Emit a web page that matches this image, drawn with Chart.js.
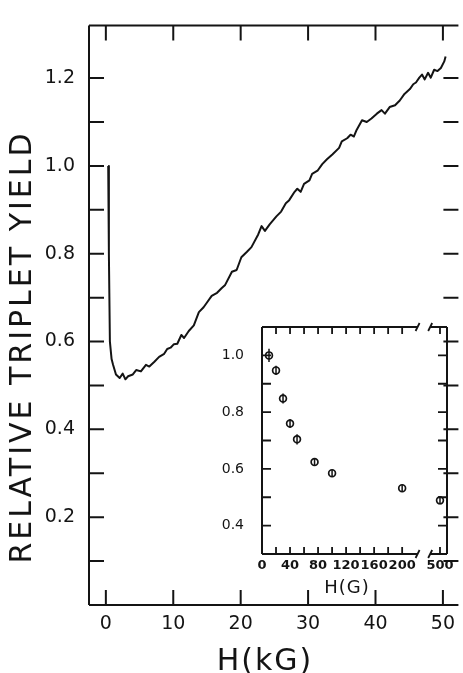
<!DOCTYPE html>
<html>
<head>
<meta charset="utf-8">
<script src="https://cdn.jsdelivr.net/npm/chart.js@4.4.1/dist/chart.umd.min.js"></script>
<style>
    html, body { margin: 0; padding: 0; background: #fff; }
    #wrap { position: relative; width: 463px; height: 673px; overflow: hidden; }
    #main { position: absolute; left: 0; top: 0; }
    #inset { position: absolute; left: 200px; top: 300px; }
</style>
</head>
<body>
<div id="wrap">
    <canvas id="main" width="463" height="673"></canvas>
    <canvas id="inset" width="263" height="300"></canvas>
</div>
<script>
const INK = '#141414';
const FAMILY = '"DejaVu Sans", sans-serif';

// main trace: relative triplet yield vs H (kG)
const fieldKG = [
    0.35, 0.45, 0.6, 0.85, 1.07, 1.5, 2.05, 2.5, 2.9, 3.3, 4.0, 4.5, 5.2, 5.95, 6.45,
    7.2, 7.9, 8.65, 9.1, 9.6, 10.1, 10.6, 11.2, 11.6, 12.3, 13.05, 13.8, 14.5, 15.0,
    15.7, 16.5, 17.2, 17.7, 18.7, 19.4, 20.1, 20.9, 21.6, 22.6, 23.1, 23.6, 24.3,
    25.3, 26.0, 26.7, 27.2, 28.0, 28.4, 28.9, 29.4, 30.2, 30.6, 31.4, 32.1, 32.8,
    33.6, 34.6, 35.0, 35.8, 36.3, 36.8, 37.2, 38.0, 38.7, 39.4, 40.2, 40.9, 41.4,
    42.1, 42.9, 43.6, 44.3, 45.1, 45.6, 46.0, 46.5, 46.9, 47.3, 47.8, 48.2, 48.7,
    49.2, 49.7, 50.2, 50.4
];
const yieldMain = [
    1.0, 0.8, 0.6, 0.56, 0.547, 0.525, 0.517, 0.527, 0.514, 0.521, 0.525, 0.535, 0.532, 0.547, 0.543,
    0.554, 0.565, 0.572, 0.583, 0.586, 0.594, 0.595, 0.615, 0.608, 0.624, 0.637, 0.667, 0.678, 0.689,
    0.704, 0.711, 0.722, 0.729, 0.759, 0.763, 0.792, 0.804, 0.815, 0.844, 0.863, 0.852, 0.867,
    0.885, 0.896, 0.915, 0.922, 0.941, 0.948, 0.941, 0.959, 0.967, 0.982, 0.989, 1.004, 1.015,
    1.026, 1.041, 1.056, 1.063, 1.071, 1.067, 1.082, 1.104, 1.1, 1.108, 1.119, 1.127, 1.119,
    1.134, 1.138, 1.149, 1.164, 1.175, 1.186, 1.19, 1.201, 1.208, 1.197, 1.212, 1.201, 1.219,
    1.216, 1.223, 1.238, 1.249
];
const mainXTicks = [0, 10, 20, 30, 40, 50];
const mainXLabels = ['0', '10', '20', '30', '40', '50'];
const mainYTicks = [0.1, 0.2, 0.3, 0.4, 0.5, 0.6, 0.7, 0.8, 0.9, 1.0, 1.1, 1.2];
const mainYLabels = ['', '0.2', '', '0.4', '', '0.6', '', '0.8', '', '1.0', '', '1.2'];

// inset: low field points, H in gauss
const fieldG = [10, 20, 30, 40, 50, 75, 100, 200, 500];
const yieldInset = [1.0, 0.947, 0.848, 0.76, 0.704, 0.624, 0.585, 0.532, 0.489];
const yieldErr = [0.023, 0.016, 0.018, 0.016, 0.018, 0.013, 0.012, 0.012, 0.014];
const insetXTicks = [0, 20, 40, 60, 80, 100, 120, 140, 160, 180, 200, 254];
const insetXLabels = ['0', '', '40', '', '80', '', '120', '', '160', '', '200', '500'];
const insetYTicks = [0.4, 0.5, 0.6, 0.7, 0.8, 0.9, 1.0];
const insetYLabels = ['0.4', '', '0.6', '', '0.8', '', '1.0'];

// the inset axis is broken after 200 G; 500 G sits on the last tick
const BREAK_FROM = 222;
const BREAK_TO = 240;
const FAR_POS = 254;
const insetPos = g => (g > BREAK_FROM ? FAR_POS : g);

// box with inward ticks on every side
const frame = {
    id: 'frame',
    afterDatasetsDraw(chart, args, o) {
        const { ctx, chartArea: a } = chart;
        const x = chart.scales.x;
        const y = chart.scales.y;
        ctx.save();
        ctx.strokeStyle = INK;
        ctx.lineWidth = o.lineWidth;
        ctx.beginPath();
        const hLine = yy => {
            if (o.gap) {
                ctx.moveTo(a.left, yy);
                ctx.lineTo(x.getPixelForValue(o.gap[0]), yy);
                ctx.moveTo(x.getPixelForValue(o.gap[1]), yy);
                ctx.lineTo(a.right, yy);
            } else {
                ctx.moveTo(a.left, yy);
                ctx.lineTo(a.right, yy);
            }
        };
        hLine(a.top);
        hLine(a.bottom);
        ctx.moveTo(a.left, a.top);
        ctx.lineTo(a.left, a.bottom);
        if (o.right) {
            ctx.moveTo(a.right, a.top);
            ctx.lineTo(a.right, a.bottom);
        }
        ctx.stroke();

        ctx.lineWidth = o.tickWidth;
        ctx.beginPath();
        x.ticks.forEach(t => {
            const px = x.getPixelForValue(t.value);
            if (px <= a.left + 2 || px >= a.right - 2) return;
            ctx.moveTo(px, a.bottom);
            ctx.lineTo(px, a.bottom - o.xLen);
            ctx.moveTo(px, a.top);
            ctx.lineTo(px, a.top + o.xLen);
        });
        y.ticks.forEach(t => {
            const py = y.getPixelForValue(t.value);
            ctx.moveTo(a.left, py);
            ctx.lineTo(a.left + o.yLen, py);
            ctx.moveTo(a.right, py);
            ctx.lineTo(a.right - o.yLen, py);
        });
        if (o.gap) {
            o.gap.forEach(v => {
                const px = x.getPixelForValue(v);
                [a.top, a.bottom].forEach(yy => {
                    ctx.moveTo(px - 2, yy + 4);
                    ctx.lineTo(px + 2, yy - 4);
                });
            });
        }
        ctx.stroke();
        ctx.restore();
    }
};

const errorBars = {
    id: 'errorBars',
    afterDatasetsDraw(chart, args, o) {
        if (!o.err) return;
        const { ctx } = chart;
        const x = chart.scales.x;
        const y = chart.scales.y;
        ctx.save();
        ctx.strokeStyle = INK;
        ctx.lineWidth = 1.5;
        ctx.beginPath();
        chart.data.datasets[0].data.forEach((p, i) => {
            const px = x.getPixelForValue(p.x);
            ctx.moveTo(px, y.getPixelForValue(p.y - o.err[i]));
            ctx.lineTo(px, y.getPixelForValue(p.y + o.err[i]));
        });
        ctx.stroke();
        ctx.restore();
    }
};

const axisTitles = {
    id: 'axisTitles',
    afterDraw(chart, args, o) {
        const { ctx } = chart;
        (o.items || []).forEach(it => {
            ctx.save();
            ctx.fillStyle = INK;
            ctx.font = it.font;
            ctx.letterSpacing = it.spacing || '0px';
            ctx.textAlign = 'center';
            ctx.textBaseline = 'middle';
            ctx.translate(it.x, it.y);
            ctx.rotate(it.rotate || 0);
            ctx.fillText(it.text, 0, 0);
            ctx.restore();
        });
    }
};

function tickAxis(ticks, labels, opts) {
    return {
        type: 'linear',
        min: opts.min,
        max: opts.max,
        afterBuildTicks: s => { s.ticks = ticks.map(v => ({ value: v })); },
        afterFit: s => {
            if (opts.width) s.width = opts.width;
            if (opts.height) s.height = opts.height;
        },
        grid: { display: false, drawTicks: false },
        border: { display: false },
        ticks: {
            callback: (v, i) => labels[i],
            autoSkip: false,
            maxRotation: 0,
            padding: opts.padding,
            color: INK,
            font: { family: FAMILY, size: opts.size, weight: opts.weight || 'normal' }
        }
    };
}

new Chart(document.getElementById('main'), {
    type: 'line',
    data: {
        datasets: [{
            data: fieldKG.map((h, i) => ({ x: h, y: yieldMain[i] })),
            borderColor: INK,
            borderWidth: 2,
            borderJoinStyle: 'round',
            pointRadius: 0,
            tension: 0
        }]
    },
    options: {
        responsive: false,
        animation: false,
        layout: { padding: { top: 13, left: 0, right: 0, bottom: 0 } },
        scales: {
            x: tickAxis(mainXTicks, mainXLabels, { min: -2.5, max: 52.3, height: 68, padding: 8, size: 19 }),
            y: tickAxis(mainYTicks, mainYLabels, { min: 0, max: 1.32, width: 89, padding: 14, size: 19 })
        },
        plugins: {
            legend: { display: false },
            tooltip: { enabled: false },
            frame: { lineWidth: 2, tickWidth: 2, xLen: 15, yLen: 15, right: false },
            axisTitles: {
                items: [
                    { text: 'RELATIVE TRIPLET YIELD', x: 23, y: 347, rotate: -Math.PI / 2, font: '30px ' + FAMILY, spacing: '3px' },
                    { text: 'H(kG)', x: 265, y: 662, font: '30px ' + FAMILY, spacing: '2px' }
                ]
            }
        }
    },
    plugins: [frame, axisTitles]
});

new Chart(document.getElementById('inset'), {
    type: 'line',
    data: {
        datasets: [{
            data: fieldG.map((g, i) => ({ x: insetPos(g), y: yieldInset[i] })),
            showLine: false,
            pointStyle: 'circle',
            pointRadius: 3.4,
            pointBorderWidth: 1.7,
            pointBorderColor: INK,
            pointBackgroundColor: '#fff'
        }]
    },
    options: {
        responsive: false,
        animation: false,
        layout: { padding: { top: 27, left: 0, right: 16, bottom: 0 } },
        scales: {
            x: tickAxis(insetXTicks, insetXLabels, { min: 0, max: 264, height: 46, padding: 4, size: 13, weight: 'bold' }),
            y: tickAxis(insetYTicks, insetYLabels, { min: 0.3, max: 1.1, width: 62, padding: 18, size: 14 })
        },
        plugins: {
            legend: { display: false },
            tooltip: { enabled: false },
            frame: { lineWidth: 2, tickWidth: 1.8, xLen: 7, yLen: 9, right: true, gap: [BREAK_FROM, BREAK_TO] },
            errorBars: { err: yieldErr },
            axisTitles: {
                items: [
                    { text: 'H(G)', x: 147, y: 288, font: '18px ' + FAMILY, spacing: '1px' }
                ]
            }
        }
    },
    plugins: [frame, errorBars, axisTitles]
});
</script>
</body>
</html>
